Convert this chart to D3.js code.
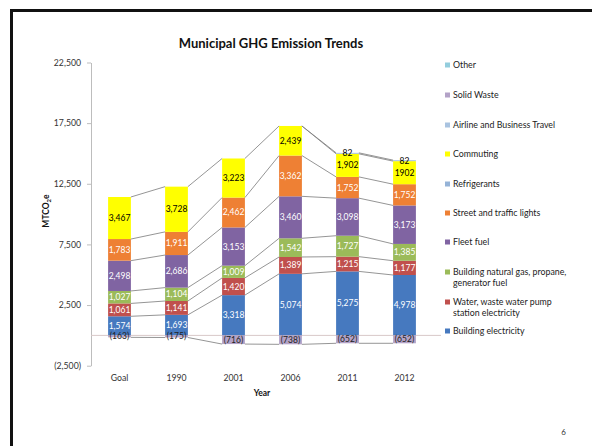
<!DOCTYPE html>
<html>
<head>
<meta charset="utf-8">
<script src="https://cdn.jsdelivr.net/npm/d3@7"></script>
<style>
  body { margin: 0; background: #fff; }
  svg { display: block; font-family: Lato, "Open Sans", sans-serif; }
</style>
</head>
<body>
<div id="chartDiv"></div>
<script>
var width = 592;
var height = 446;

// data
var years = ["Goal", "1990", "2001", "2006", "2011", "2012"];
var seriesNames = ["Building electricity", "Water, waste water pump station electricity",
    "Building natural gas, propane, generator fuel", "Fleet fuel", "Street and traffic lights",
    "Refrigerants", "Commuting", "Airline and Business Travel", "Solid Waste", "Other"];
var buildingElectricity = [1574, 1693, 3318, 5074, 5275, 4978];
var waterPump = [1061, 1141, 1420, 1389, 1215, 1177];
var buildingGas = [1027, 1104, 1009, 1542, 1727, 1385];
var fleetFuel = [2498, 2686, 3153, 3460, 3098, 3173];
var streetLights = [1783, 1911, 2462, 3362, 1752, 1752];
var refrigerants = [0, 0, 0, 0, 0, 0];
var commuting = [3467, 3728, 3223, 2439, 1902, 1902];
var airline = [0, 0, 0, 0, 82, 82];
var solidWaste = [-163, -175, -716, -738, -652, -652];
var other = [0, 0, 0, 0, 0, 0];
var yTicks = [-2500, 2500, 7500, 12500, 17500, 22500];

var seriesValues = [buildingElectricity, waterPump, buildingGas, fleetFuel, streetLights,
    refrigerants, commuting, airline, solidWaste, other];
var colors = ["#4679BF", "#C0504D", "#9BBB59", "#8064A2", "#EE8034",
    "#95B3D7", "#FFFF00", "#A9C3E0", "#B3A2C7", "#93CDDD"];
var labelColors = ["#fff", "#fff", "#fff", "#fff", "#fff", "#000", "#000", "#000", "#222", "#000"];

// legend shows the series top-down, with the two long names wrapped
var legendLines = {
    "Water, waste water pump station electricity": ["Water, waste water pump", "station electricity"],
    "Building natural gas, propane, generator fuel": ["Building natural gas, propane,", "generator fuel"]
};

var table = years.map(function(yr, i) {
    var row = { year: yr };
    seriesNames.forEach(function(s, j) { row[s] = seriesValues[j][i]; });
    return row;
});

var plot = { left: 91, right: 433, top: 62.5, bottom: 365.7 };

var x = d3.scaleBand().domain(years).range([plot.left, plot.right]).paddingInner(0.6).paddingOuter(0.3);
var y = d3.scaleLinear().domain([-2500, 22500]).range([plot.bottom, plot.top]);

var stacked = d3.stack().keys(seriesNames).offset(d3.stackOffsetDiverging)(table);

// end of a series in the stack (bottom for negatives, running top otherwise)
function seriesEnd(j, i) {
    var v = seriesValues[j][i];
    if (v < 0) return stacked[j][i][0];
    var sum = 0;
    for (var k = 0; k <= j; k++) {
        if (seriesValues[k][i] > 0) sum += seriesValues[k][i];
    }
    return sum;
}

var svg = d3.select("#chartDiv").append("svg")
    .attr("width", width)
    .attr("height", height);

// slide frame
svg.append("path")
    .attr("d", "M11.5," + (height + 5) + "V10.5H" + (width + 5))
    .attr("fill", "none")
    .attr("stroke", "#111")
    .attr("stroke-width", 3);

// title
svg.append("text")
    .attr("x", 271)
    .attr("y", 48)
    .attr("text-anchor", "middle")
    .style("font-size", "13px")
    .style("font-weight", "bold")
    .attr("fill", "#111")
    .text("Municipal GHG Emission Trends");

// y axis
var yAxis = d3.axisLeft(y)
    .tickValues(yTicks)
    .tickSize(4)
    .tickSizeOuter(0)
    .tickPadding(6)
    .tickFormat(function(d) { return d < 0 ? "(" + d3.format(",")(-d) + ")" : d3.format(",")(d); });

var yg = svg.append("g")
    .attr("transform", "translate(" + plot.left + ",0)")
    .call(yAxis);
yg.select(".domain").attr("stroke", "#bdbdbd");
yg.selectAll(".tick line").attr("stroke", "#bdbdbd");
yg.selectAll(".tick text").attr("fill", "#333").style("font-size", "8.7px").style("font-family", "Lato, sans-serif");

// zero line
svg.append("line")
    .attr("x1", plot.left).attr("x2", plot.right + 8)
    .attr("y1", y(0)).attr("y2", y(0))
    .attr("stroke", "#d8c8c8")
    .attr("stroke-width", 1);

// bars
var layers = svg.append("g").selectAll("g.layer")
    .data(stacked)
    .enter().append("g")
    .attr("class", "layer")
    .attr("fill", function(d, i) { return colors[i]; });

layers.selectAll("rect")
    .data(function(d) { return d; })
    .enter().append("rect")
    .attr("x", function(d) { return x(d.data.year); })
    .attr("width", x.bandwidth())
    .attr("y", function(d) { return y(d[1]); })
    .attr("height", function(d) { return y(d[0]) - y(d[1]); });

// series lines between neighbouring bars
var lineG = svg.append("g");
seriesNames.forEach(function(name, j) {
    for (var i = 0; i < years.length - 1; i++) {
        if (seriesValues[j][i] == 0 && seriesValues[j][i + 1] == 0) continue;
        lineG.append("line")
            .attr("x1", x(years[i]) + x.bandwidth())
            .attr("x2", x(years[i + 1]))
            .attr("y1", y(seriesEnd(j, i)))
            .attr("y2", y(seriesEnd(j, i + 1)))
            .attr("stroke", "#7a7a7a")
            .attr("stroke-width", 0.8);
    }
});

// data labels
var plainLabel = { "2012|Commuting": true };
stacked.forEach(function(layer, j) {
    layer.forEach(function(d, i) {
        var v = seriesValues[j][i];
        if (v == 0) return;
        var txt;
        if (v < 0) txt = "(" + d3.format(",")(-v) + ")";
        else if (plainLabel[years[i] + "|" + seriesNames[j]]) txt = String(v);
        else txt = d3.format(",")(v);
        svg.append("text")
            .attr("x", x(years[i]) + x.bandwidth() / 2)
            .attr("y", y((d[0] + d[1]) / 2))
            .attr("dy", "0.35em")
            .attr("text-anchor", "middle")
            .attr("fill", labelColors[j])
            .style("font-size", "8.5px")
            .text(txt);
    });
});

// x axis labels
svg.append("g").selectAll("text")
    .data(years)
    .enter().append("text")
    .attr("x", function(d) { return x(d) + x.bandwidth() / 2; })
    .attr("y", 381)
    .attr("text-anchor", "middle")
    .attr("fill", "#333")
    .style("font-size", "8.7px")
    .text(function(d) { return d; });

svg.append("text")
    .attr("x", 262)
    .attr("y", 396)
    .attr("text-anchor", "middle")
    .style("font-size", "8.5px")
    .style("font-weight", "bold")
    .attr("fill", "#111")
    .text("Year");

// y axis title with subscript
var yTitle = svg.append("text")
    .attr("transform", "translate(49,211) rotate(-90)")
    .attr("text-anchor", "middle")
    .style("font-size", "8.5px")
    .style("font-weight", "bold")
    .attr("fill", "#111");
yTitle.append("tspan").text("MTCO");
yTitle.append("tspan").attr("dy", 2).style("font-size", "6px").text("2");
yTitle.append("tspan").attr("dy", -2).text("e");

// legend, top of the stack first
var legendY = [65, 95, 125, 154, 184, 213, 242, 272, 302, 331];
var legend = svg.append("g");
seriesNames.slice().reverse().forEach(function(name, k) {
    var j = seriesNames.length - 1 - k;
    var g = legend.append("g").attr("transform", "translate(445," + legendY[k] + ")");
    g.append("rect")
        .attr("x", 0).attr("y", -2.5)
        .attr("width", 5).attr("height", 5)
        .attr("fill", colors[j]);
    var lines = legendLines[name] || [name];
    lines.forEach(function(line, n) {
        g.append("text")
            .attr("x", 8)
            .attr("y", n * 11)
            .attr("dy", "0.35em")
            .attr("fill", "#222")
            .style("font-size", "8.8px")
            .text(line);
    });
});

// page number
svg.append("text")
    .attr("x", 566)
    .attr("y", 435)
    .attr("text-anchor", "end")
    .attr("fill", "#333")
    .style("font-size", "8px")
    .text("6");
</script>
</body>
</html>
